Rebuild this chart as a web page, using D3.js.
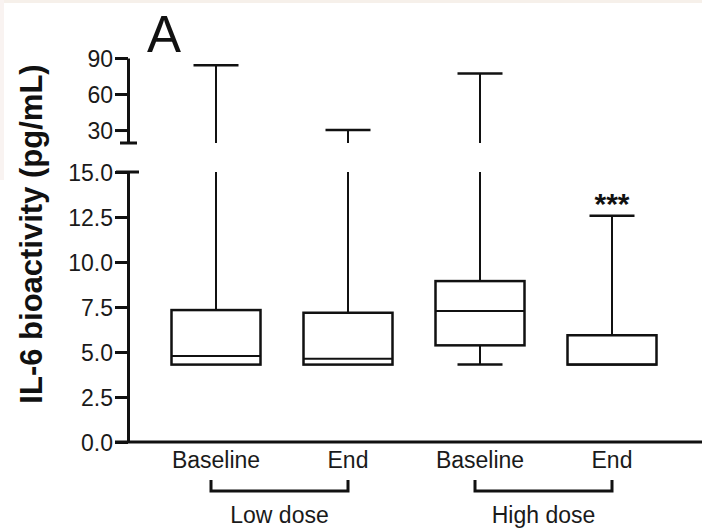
<!DOCTYPE html>
<html>
<head>
<meta charset="utf-8">
<script src="https://cdn.jsdelivr.net/npm/d3@7"></script>
<style>
  body { margin: 0; background: #fff; }
  svg { display: block; font-family: "Liberation Sans", Arial, sans-serif; }
</style>
</head>
<body>
<svg id="chart" width="702" height="531"></svg>
<script>
// values (pg/mL)
const labels = ["Baseline", "End", "Baseline", "End"];
const groups = ["Low dose", "Low dose", "High dose", "High dose"];
const whiskerMin = [4.3, 4.3, 4.3, 4.3];
const q1 = [4.3, 4.3, 5.37, 4.3];
const median = [4.78, 4.63, 7.28, 4.3];
const q3 = [7.33, 7.18, 8.94, 5.93];
const whiskerMax = [84, 30, 77, 12.57];
const marks = ["", "", "", "***"];

const lowTicks = [0, 2.5, 5, 7.5, 10, 12.5, 15];
const highTicks = [30, 60, 90];

const boxes = labels.map((d, i) => ({
    id: i, label: d, group: groups[i],
    min: whiskerMin[i], q1: q1[i], med: median[i], q3: q3[i], max: whiskerMax[i],
    mark: marks[i]
}));

let svg = d3.select("#chart");

// faint page edge left over from the scan
svg.append("rect").attr("x", 0).attr("y", 0).attr("width", 702).attr("height", 3).attr("fill", "#f6f0ea");
svg.append("rect").attr("x", 0).attr("y", 0).attr("width", 4).attr("height", 180).attr("fill", "#f9f3f1");

let x = d3.scalePoint().domain(boxes.map(d => d.id)).range([216, 612]);
let yLow = d3.scaleLinear().domain([0, 15]).range([442, 172]);
let yHigh = d3.scaleLinear().domain([19.2, 90]).range([143, 58]);

const ink = "#111";
const boxW = 89, capW = 45;

// y axes (broken)
let axLow = svg.append("g")
    .attr("transform", "translate(128,0)")
    .call(d3.axisLeft(yLow).tickValues(lowTicks).tickSize(13).tickSizeOuter(0)
        .tickPadding(2).tickFormat(d3.format(".1f")));

let axHigh = svg.append("g")
    .attr("transform", "translate(128,0)")
    .call(d3.axisLeft(yHigh).tickValues(highTicks).tickSize(13).tickSizeOuter(0)
        .tickPadding(2).tickFormat(d3.format("d")));

[axLow, axHigh].forEach(ax => {
    ax.select(".domain").attr("stroke", ink).attr("stroke-width", 3);
    ax.selectAll(".tick line").attr("stroke", ink).attr("stroke-width", 3);
    ax.selectAll(".tick text")
        .attr("fill", "#1a1a1a")
        .style("font-size", "23px")
        .attr("dy", "0.36em");
});

// caps at the break
svg.append("line").attr("x1", 120).attr("x2", 137)
    .attr("y1", yHigh.range()[0]).attr("y2", yHigh.range()[0])
    .attr("stroke", ink).attr("stroke-width", 3);
svg.append("line").attr("x1", 116).attr("x2", 139)
    .attr("y1", yLow.range()[1]).attr("y2", yLow.range()[1])
    .attr("stroke", ink).attr("stroke-width", 3);

// x axis line
svg.append("line").attr("x1", 115).attr("x2", 702)
    .attr("y1", yLow(0)).attr("y2", yLow(0))
    .attr("stroke", ink).attr("stroke-width", 3);

// whiskers
let g = svg.append("g").attr("stroke", ink).attr("fill", "none");

boxes.forEach(d => {
    let cx = x(d.id);
    let topLow = d.max > 15 ? yLow(15) : yLow(d.max);
    g.append("line").attr("x1", cx).attr("x2", cx)
        .attr("y1", yLow(d.q3)).attr("y2", topLow).attr("stroke-width", 2);
    let capY = topLow;
    if (d.max > 15) {
        capY = yHigh(d.max);
        g.append("line").attr("x1", cx).attr("x2", cx)
            .attr("y1", yHigh.range()[0]).attr("y2", capY).attr("stroke-width", 2);
    }
    g.append("line").attr("x1", cx - capW / 2).attr("x2", cx + capW / 2)
        .attr("y1", capY).attr("y2", capY).attr("stroke-width", 2.5);

    if (d.min < d.q1) {
        g.append("line").attr("x1", cx).attr("x2", cx)
            .attr("y1", yLow(d.q1)).attr("y2", yLow(d.min)).attr("stroke-width", 2);
        g.append("line").attr("x1", cx - capW / 2).attr("x2", cx + capW / 2)
            .attr("y1", yLow(d.min)).attr("y2", yLow(d.min)).attr("stroke-width", 2.5);
    }

    if (d.mark) {
        svg.append("text")
            .attr("x", cx).attr("y", capY - 2)
            .attr("text-anchor", "middle")
            .style("font-size", "30px").style("font-weight", "bold")
            .attr("fill", ink)
            .text(d.mark);
    }
});

// boxes
g.selectAll(".box")
    .data(boxes)
    .enter()
    .append("rect")
    .attr("class", "box")
    .attr("x", d => x(d.id) - boxW / 2)
    .attr("width", boxW)
    .attr("y", d => yLow(d.q3))
    .attr("height", d => yLow(d.q1) - yLow(d.q3))
    .attr("fill", "#fff")
    .attr("stroke-width", 2.5);

g.selectAll(".median")
    .data(boxes)
    .enter()
    .append("line")
    .attr("class", "median")
    .attr("x1", d => x(d.id) - boxW / 2)
    .attr("x2", d => x(d.id) + boxW / 2)
    .attr("y1", d => yLow(d.med))
    .attr("y2", d => yLow(d.med))
    .attr("stroke-width", 2);

// category labels
svg.selectAll(".cat")
    .data(boxes)
    .enter()
    .append("text")
    .attr("class", "cat")
    .attr("x", d => x(d.id))
    .attr("y", 468)
    .attr("text-anchor", "middle")
    .style("font-size", "23px")
    .attr("fill", "#1a1a1a")
    .text(d => d.label);

// group brackets
let groupNames = Array.from(new Set(groups));
groupNames.forEach(name => {
    let ids = boxes.filter(d => d.group === name).map(d => x(d.id));
    let x0 = d3.min(ids) - 5, x1 = d3.max(ids);
    svg.append("path")
        .attr("d", `M${x0},480 V491 H${x1} V480`)
        .attr("fill", "none")
        .attr("stroke", ink)
        .attr("stroke-width", 3);
    svg.append("text")
        .attr("x", (x0 + x1) / 2)
        .attr("y", 523)
        .attr("text-anchor", "middle")
        .style("font-size", "23px")
        .attr("fill", "#1a1a1a")
        .text(name);
});

// y title
svg.append("text")
    .attr("transform", "rotate(-90)")
    .attr("x", -234)
    .attr("y", 42)
    .attr("text-anchor", "middle")
    .style("font-size", "31px")
    .style("font-weight", "bold")
    .attr("fill", "#111")
    .text("IL-6 bioactivity (pg/mL)");

// panel letter
svg.append("text")
    .attr("x", 147)
    .attr("y", 52)
    .style("font-size", "51px")
    .attr("fill", "#111")
    .text("A");
</script>
</body>
</html>
